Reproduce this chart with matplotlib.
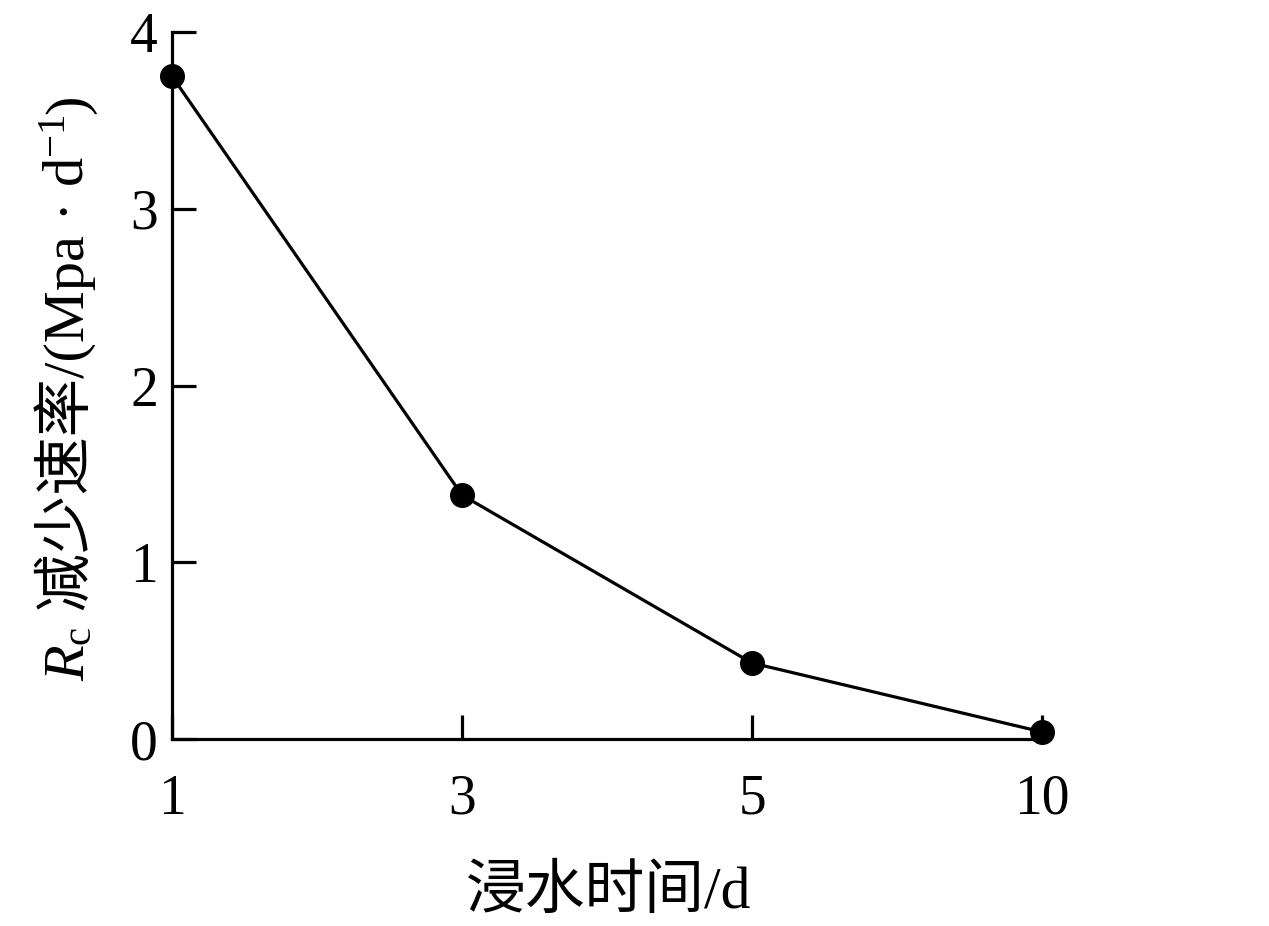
import matplotlib
matplotlib.use('Agg')
import matplotlib.pyplot as plt

plt.rcParams['font.family'] = ['Liberation Serif', 'Noto Sans CJK SC']
plt.rcParams['mathtext.fontset'] = 'custom'
plt.rcParams['mathtext.rm'] = 'Liberation Serif'
plt.rcParams['mathtext.it'] = 'Liberation Serif:italic'

# 数据
days = ['1', '3', '5', '10']
rate = [3.75, 1.38, 0.43, 0.04]

W, H = 1269, 926
fig = plt.figure(figsize=(W / 100, H / 100), dpi=100)
ax = fig.add_axes([172 / W, 1 - 739 / H, (1042 - 172) / W, (739 - 32) / H])

x = list(range(len(days)))
ax.plot(x, rate, color='k', lw=2.3, marker='o', markersize=17, clip_on=False, zorder=3)

ax.set_xlim(0, len(days) - 1)
ax.set_ylim(0, 4)
ax.set_xticks(x)
ax.set_xticklabels(days)
ax.set_yticks([0, 1, 2, 3, 4])

for s in ['top', 'right']:
    ax.spines[s].set_visible(False)
for s in ['left', 'bottom']:
    ax.spines[s].set_linewidth(2.3)

ax.tick_params(axis='both', direction='in', length=17, width=2.3, labelsize=40)
ax.tick_params(axis='x', pad=25)
ax.tick_params(axis='y', pad=10)

# x轴标题
fig.text(609 / W, 1 - 908 / H, '浸水时间/d', fontsize=43, ha='center', va='baseline')

# y轴标题：分段拼接（中文 + 数学文本）
pieces = [r'$R_\mathrm{c}$', ' 减少速率/(Mpa · ', r'$\mathrm{d}^{-1}$', ')']
texts = [fig.text(0, 0, p, fontsize=42, rotation=90, rotation_mode='anchor',
                  ha='left', va='baseline') for p in pieces]
fig.canvas.draw()
r = fig.canvas.get_renderer()
lens = [t.get_window_extent(r).height for t in texts]
total = sum(lens)
y0 = (H - 388) - total / 2
for t, l in zip(texts, lens):
    t.set_position((84 / W, y0 / H))
    y0 += l

fig.savefig('out.png', dpi=100)
